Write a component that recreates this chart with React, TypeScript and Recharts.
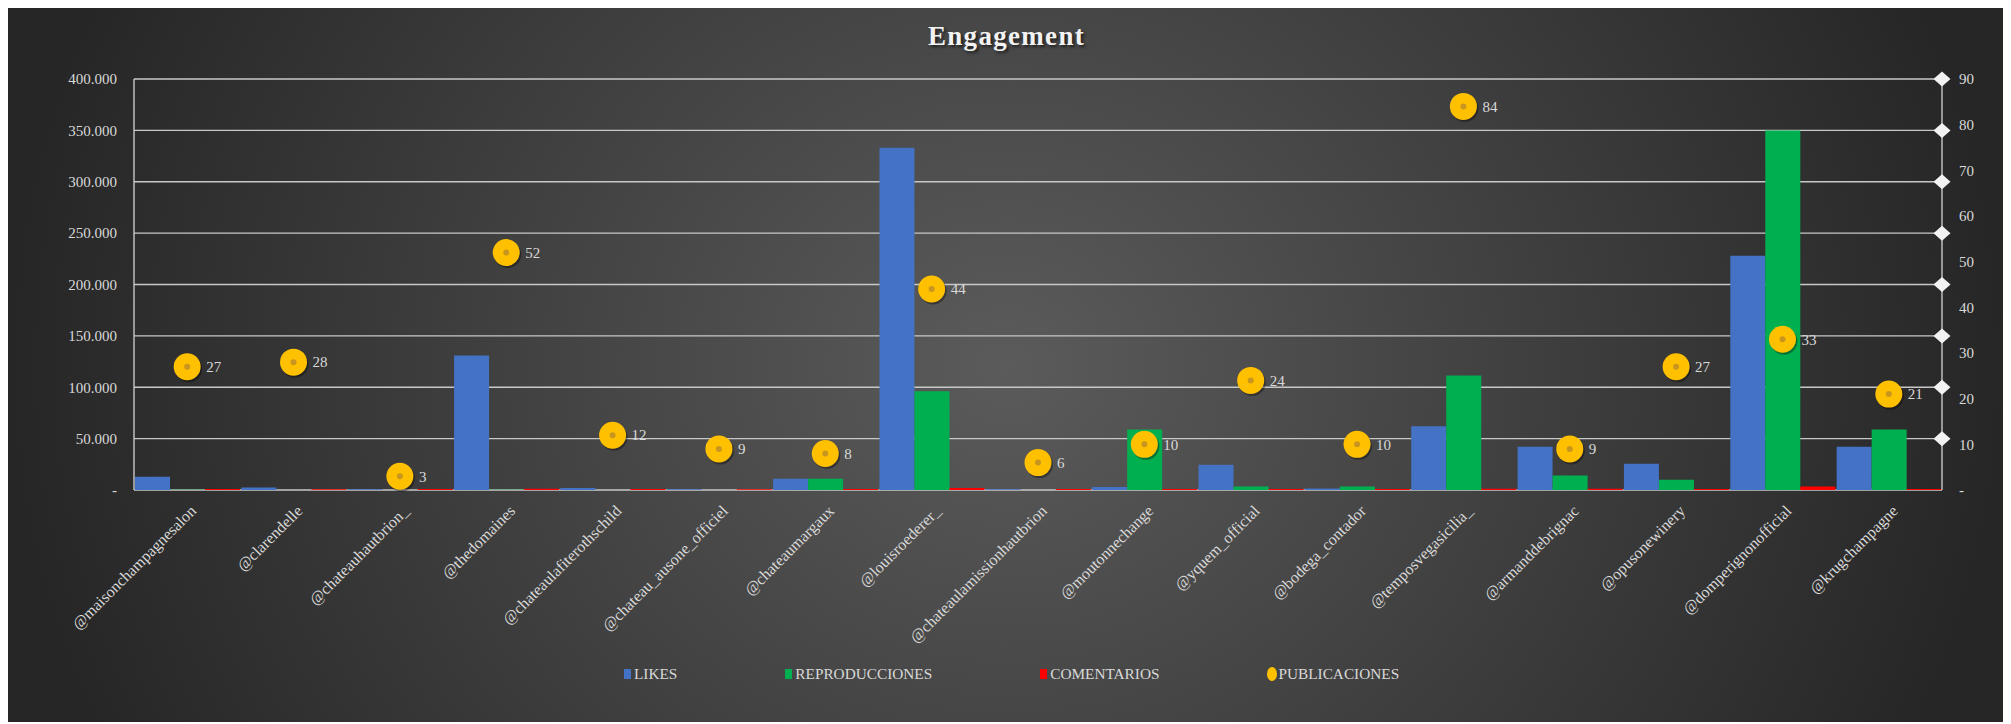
import React from "react";
import {
  ComposedChart,
  Bar,
  Line,
  XAxis,
  YAxis,
  CartesianGrid,
} from "recharts";

const handles = [
  "@maisonchampagnesalon",
  "@clarendelle",
  "@chateauhautbrion_",
  "@thedomaines",
  "@chateaulafiterothschild",
  "@chateau_ausone_officiel",
  "@chateaumargaux",
  "@louisroederer_",
  "@chateaulamissionhautbrion",
  "@moutonnechange",
  "@yquem_official",
  "@bodega_contador",
  "@temposvegasicilia_",
  "@armanddebrignac",
  "@opusonewinery",
  "@domperignonofficial",
  "@krugchampagne",
];

const likes = [13000, 2500, 800, 131000, 2000, 700, 11000, 333000, 700, 3000, 24500, 1500, 62000, 42000, 25500, 228000, 42000];
const reproducciones = [300, 0, 0, 300, 0, 0, 11000, 96000, 0, 59000, 3500, 3500, 111500, 14000, 10000, 350000, 59000];
const comentarios = [1000, 800, 1000, 1200, 900, 800, 1000, 2000, 900, 1000, 1000, 900, 1200, 1100, 1000, 3500, 1000];
const publicaciones = [27, 28, 3, 52, 12, 9, 8, 44, 6, 10, 24, 10, 84, 9, 27, 33, 21];

const leftTicks = [0, 50000, 100000, 150000, 200000, 250000, 300000, 350000, 400000];
const rightTicks = [0, 10, 20, 30, 40, 50, 60, 70, 80, 90];

const series = [
  { key: "likes", name: "LIKES", color: "#4472C4" },
  { key: "reproducciones", name: "REPRODUCCIONES", color: "#00B050" },
  { key: "comentarios", name: "COMENTARIOS", color: "#FF0000" },
];
const pubColor = "#FFC000";

const data = handles.map((h, i) => ({
  handle: h,
  likes: likes[i],
  reproducciones: reproducciones[i],
  comentarios: comentarios[i],
  publicaciones: publicaciones[i],
}));

const FONT = "'Liberation Serif', 'Times New Roman', serif";
const TEXT = "#d9d9d9";

// chart geometry
const CHART_W = 1997;
const CHART_H = 714;
const LEFT_W = 126;
const RIGHT_W = 63;
const PLOT_W = CHART_W - LEFT_W - RIGHT_W;
const LEFT_MARGIN = 17;

const fmtLeft = (v: number) => (v === 0 ? "-" : `${v / 1000}.000`);
const fmtRight = (v: number) => (v === 0 ? "-" : String(v));

const XTick = (props: any) => {
  const { x, y, payload } = props;
  const ax = x + 6;
  return (
    <text
      x={ax}
      y={y}
      dy="0.35em"
      textAnchor="end"
      transform={`rotate(-45 ${ax} ${y})`}
      fill={TEXT}
      fontSize={16}
      fontFamily={FONT}
    >
      {payload.value}
    </text>
  );
};

// left labels, plus the white diamonds that sit on the right axis line
// at every left-axis gridline (as in the Excel original)
const LeftTick = (props: any) => {
  const { x, y, payload } = props;
  const dx = x + LEFT_MARGIN + PLOT_W;
  return (
    <g>
      <text
        x={x}
        y={y}
        dy="0.35em"
        textAnchor="end"
        fill={TEXT}
        fontSize={15}
        fontFamily={FONT}
      >
        {fmtLeft(payload.value)}
      </text>
      {payload.value !== 0 && (
        <path
          d={`M ${dx} ${y - 7.5} L ${dx + 8.5} ${y} L ${dx} ${y + 7.5} L ${dx - 8.5} ${y} Z`}
          fill="#f2f2f2"
        />
      )}
    </g>
  );
};

const PubDot = (props: any) => {
  const { cx, cy } = props;
  if (cx == null || cy == null) return null;
  return (
    <g>
      <circle cx={cx + 1.5} cy={cy + 2} r={13.5} fill="rgba(0,0,0,0.35)" />
      <circle cx={cx} cy={cy} r={13.5} fill={pubColor} />
      <circle cx={cx} cy={cy} r={3} fill="#C8961E" />
    </g>
  );
};

const PubLabel = (props: any) => {
  const { x, y, value } = props;
  return (
    <text x={x + 19} y={y} dy="0.35em" fill={TEXT} fontSize={15} fontFamily={FONT}>
      {value}
    </text>
  );
};

export default function App() {
  return (
    <div
      style={{
        position: "relative",
        width: CHART_W,
        height: CHART_H,
        background:
          "radial-gradient(ellipse 1000px 900px at 50% 50%, #5b5b5b 0%, #262626 100%)",
        fontFamily: FONT,
      }}
    >
      <div
        style={{
          position: "absolute",
          top: 13,
          left: 0,
          width: "100%",
          height: 30,
          lineHeight: "30px",
          textAlign: "center",
          color: "#f2f2f2",
          fontSize: 27,
          fontWeight: "bold",
          letterSpacing: 1.3,
          textShadow: "2px 2px 3px rgba(0,0,0,0.6)",
        }}
      >
        Engagement
      </div>

      <ComposedChart
        width={CHART_W}
        height={CHART_H}
        data={data}
        margin={{ top: 71, right: 0, bottom: 52, left: 0 }}
        barCategoryGap={1}
        barGap={0}
      >
        <CartesianGrid
          yAxisId="left"
          vertical={false}
          stroke="#c8c8c8"
          strokeWidth={1.4}
        />
        <XAxis
          dataKey="handle"
          interval={0}
          height={180}
          tickSize={0}
          tickMargin={18}
          axisLine={false}
          tick={<XTick />}
        />
        <YAxis
          yAxisId="left"
          width={LEFT_W}
          domain={[0, 400000]}
          ticks={leftTicks}
          interval={0}
          tickSize={0}
          tickMargin={LEFT_MARGIN}
          axisLine={{ stroke: "#c8c8c8", strokeWidth: 1.4 }}
          tick={<LeftTick />}
        />
        <YAxis
          yAxisId="right"
          orientation="right"
          width={RIGHT_W}
          domain={[0, 90]}
          ticks={rightTicks}
          interval={0}
          tickFormatter={fmtRight}
          tickSize={0}
          tickMargin={17}
          axisLine={{ stroke: "#c8c8c8", strokeWidth: 1.4 }}
          tick={{ fill: TEXT, fontSize: 15, fontFamily: FONT }}
        />
        {series.map((s) => (
          <Bar
            key={s.key}
            yAxisId="left"
            dataKey={s.key}
            name={s.name}
            fill={s.color}
            isAnimationActive={false}
          />
        ))}
        <Line
          yAxisId="right"
          dataKey="publicaciones"
          name="PUBLICACIONES"
          stroke="none"
          dot={<PubDot />}
          activeDot={false}
          label={<PubLabel />}
          isAnimationActive={false}
        />
      </ComposedChart>

      <div
        style={{
          position: "absolute",
          top: 656,
          left: 616,
          height: 20,
          display: "flex",
          alignItems: "center",
          gap: 108,
          color: TEXT,
          fontSize: 15.3,
        }}
      >
        {series.map((s) => (
          <div key={s.key} style={{ display: "flex", alignItems: "center" }}>
            <span
              style={{
                display: "inline-block",
                width: 7,
                height: 10,
                background: s.color,
                marginRight: 3,
              }}
            />
            {s.name}
          </div>
        ))}
        <div style={{ display: "flex", alignItems: "center" }}>
          <span
            style={{
              display: "inline-block",
              width: 10,
              height: 14,
              borderRadius: "50%",
              background: pubColor,
              marginRight: 1,
            }}
          />
          PUBLICACIONES
        </div>
      </div>
    </div>
  );
}
